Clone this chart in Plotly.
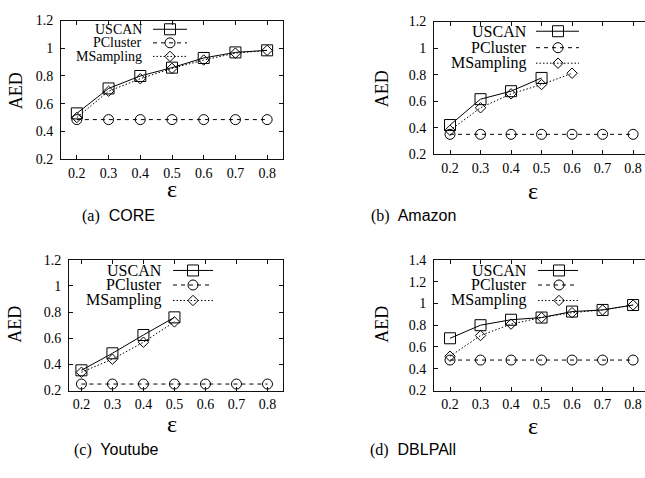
import plotly.graph_objects as go

W, H = 645, 478

eps = [0.2, 0.3, 0.4, 0.5, 0.6, 0.7, 0.8]
eps_labels = ["0.2", "0.3", "0.4", "0.5", "0.6", "0.7", "0.8"]

# (a) CORE
core_uscan = [0.53, 0.71, 0.80, 0.86, 0.93, 0.97, 0.985]
core_pcluster = [0.485, 0.485, 0.485, 0.485, 0.485, 0.485, 0.485]
core_msampling = [0.50, 0.69, 0.78, 0.855, 0.915, 0.965, 0.985]

# (b) Amazon
amazon_uscan = [0.42, 0.615, 0.675, 0.775]
amazon_pcluster = [0.35, 0.35, 0.35, 0.35, 0.35, 0.35, 0.35]
amazon_msampling = [0.38, 0.55, 0.655, 0.725, 0.81]

# (c) Youtube
youtube_uscan = [0.355, 0.485, 0.625, 0.76]
youtube_pcluster = [0.25, 0.25, 0.25, 0.25, 0.25, 0.25, 0.25]
youtube_msampling = [0.34, 0.44, 0.57, 0.725]

# (d) DBLPAll
dblp_uscan = [0.68, 0.80, 0.85, 0.87, 0.925, 0.94, 0.985]
dblp_pcluster = [0.48, 0.48, 0.48, 0.48, 0.48, 0.48, 0.48]
dblp_msampling = [0.515, 0.705, 0.81, 0.87, 0.915, 0.94, 0.985]

series_names = ["USCAN", "PCluster", "MSampling"]
captions = ["(a)", "(b)", "(c)", "(d)"]
dataset_names = ["CORE", "Amazon", "Youtube", "DBLPAll"]

panels_data = [
    (core_uscan, core_pcluster, core_msampling),
    (amazon_uscan, amazon_pcluster, amazon_msampling),
    (youtube_uscan, youtube_pcluster, youtube_msampling),
    (dblp_uscan, dblp_pcluster, dblp_msampling),
]

# ---- layout / style (pixel geometry) ----
SERIF = "Liberation Serif"
SANS = "Liberation Sans"
styles = [
    dict(symbol="square-open", size=11, dash="solid"),
    dict(symbol="circle-open", size=10, dash="4px,4px"),
    dict(symbol="diamond-open", size=8, dash="1.5px,2px"),
]

panels = [
    dict(l=61, r=283, t=14, b=157, xr=[0.15, 0.85], yr=[0.2, 1.2], box=True,
         ytitle=(16, 87), xtitle=(172, 188), cap=(118, 216),
         leg=dict(tx=144, l0=153, l1=187, m=170, rows=[23, 37, 51], fs=14)),
    dict(l=434, r=645, t=15, b=152, xr=[0.1475, 0.839], yr=[0.2, 1.2], box=False,
         ytitle=(382, 85), xtitle=(533, 190), cap=(413, 216),
         leg=dict(tx=529, l0=536, l1=579, m=558, rows=[25, 42, 58], fs=16)),
    dict(l=69, r=283, t=261, b=396, xr=[0.16, 0.85], yr=[0.2, 1.2], box=True,
         ytitle=(15, 328), xtitle=(172, 431), cap=(116, 457),
         leg=dict(tx=164, l0=173, l1=213, m=193, rows=[272, 287, 303], fs=16)),
    dict(l=434, r=645, t=261, b=396, xr=[0.1475, 0.839], yr=[0.2, 1.4], box=False,
         ytitle=(382, 328), xtitle=(533, 433), cap=(413, 457),
         leg=dict(tx=529, l0=538, l1=578, m=559, rows=[272, 287, 303], fs=16)),
]

fig = go.Figure()
layout = dict(width=W, height=H, margin=dict(l=0, r=0, t=0, b=0),
              paper_bgcolor="white", plot_bgcolor="rgba(0,0,0,0)",
              showlegend=False, annotations=[])

def px_x(v):
    return v / W

def px_y(v):
    return 1 - v / H

for i, (p, data) in enumerate(zip(panels, panels_data)):
    k = i + 1
    kl = i + 5
    xd = [px_x(p["l"]), px_x(p["r"])]
    yd = [px_y(p["b"]), px_y(p["t"])]
    axis_common = dict(showgrid=False, zeroline=False, showline=True,
                       linecolor="#111", linewidth=1, ticks="inside",
                       ticklen=4, tickcolor="#111",
                       tickfont=dict(family=SERIF, size=14, color="black"))
    layout[f"xaxis{k}"] = dict(domain=xd, range=p["xr"], anchor=f"y{k}",
                               tickvals=eps, ticktext=eps_labels,
                               mirror="ticks", ticklabelstandoff=1,
                               **axis_common)
    layout[f"yaxis{k}"] = dict(domain=yd, range=p["yr"], anchor=f"x{k}",
                               dtick=0.2, tick0=0.2,
                               mirror="ticks" if p["box"] else False,
                               ticklabelstandoff=4, **axis_common)
    # overlay axes in pixel units for the key
    layout[f"xaxis{kl}"] = dict(domain=xd, range=[p["l"], p["r"]],
                                overlaying=f"x{k}", anchor=f"y{kl}", visible=False)
    layout[f"yaxis{kl}"] = dict(domain=yd, range=[p["b"], p["t"]],
                                overlaying=f"y{k}", anchor=f"x{kl}", visible=False)

    for s, (vals, st, name) in enumerate(zip(data, styles, series_names)):
        fig.add_trace(go.Scatter(
            x=eps[:len(vals)], y=vals, mode="lines+markers", name=name,
            xaxis=f"x{k}", yaxis=f"y{k}", cliponaxis=False,
            line=dict(color="black", width=1, dash=st["dash"]),
            marker=dict(symbol=st["symbol"], size=st["size"], color="black",
                        line=dict(width=1, color="black"))))
        lg = p["leg"]
        ry = lg["rows"][s]
        fig.add_trace(go.Scatter(
            x=[lg["l0"], lg["l1"]], y=[ry, ry], mode="lines",
            xaxis=f"x{kl}", yaxis=f"y{kl}", hoverinfo="skip",
            line=dict(color="black", width=1, dash=st["dash"])))
        fig.add_trace(go.Scatter(
            x=[lg["m"]], y=[ry], mode="markers", cliponaxis=False,
            xaxis=f"x{kl}", yaxis=f"y{kl}", hoverinfo="skip",
            marker=dict(symbol=st["symbol"], size=st["size"], color="black",
                        line=dict(width=1, color="black"))))
        layout["annotations"].append(dict(
            text=name, xref="paper", yref="paper",
            x=px_x(lg["tx"]), y=px_y(ry), xanchor="right", yanchor="middle",
            showarrow=False, font=dict(family=SERIF, size=lg["fs"], color="black")))

    layout["annotations"].append(dict(
        text="AED", xref="paper", yref="paper", x=px_x(p["ytitle"][0]),
        y=px_y(p["ytitle"][1]), xanchor="center", yanchor="middle",
        textangle=-90, showarrow=False,
        font=dict(family=SERIF, size=18, color="black")))
    layout["annotations"].append(dict(
        text="ε", xref="paper", yref="paper", x=px_x(p["xtitle"][0]),
        y=px_y(p["xtitle"][1]), xanchor="center", yanchor="middle",
        showarrow=False, font=dict(family=SERIF, size=24, color="black")))
    layout["annotations"].append(dict(
        text=f"<span style='font-family:{SERIF}'>{captions[i]}</span>&nbsp; {dataset_names[i]}",
        xref="paper", yref="paper", x=px_x(p["cap"][0]), y=px_y(p["cap"][1]),
        xanchor="center", yanchor="middle", showarrow=False,
        font=dict(family=SANS, size=16, color="black")))

fig.update_layout(**layout)
fig.write_html("out.html", config={"displayModeBar": False},
               post_script="document.body.style.margin='0';document.body.style.padding='0';")
